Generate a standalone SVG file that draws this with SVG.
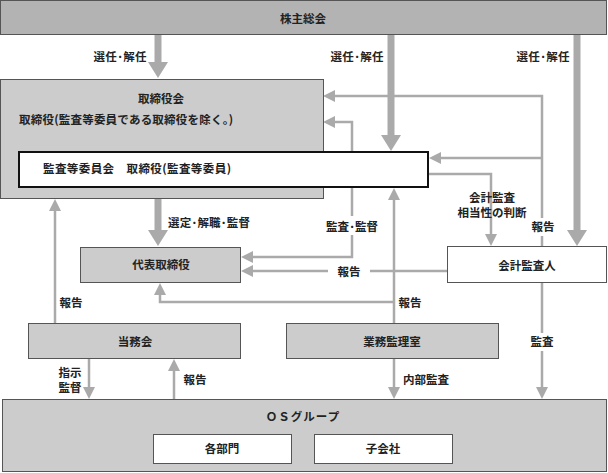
<svg xmlns="http://www.w3.org/2000/svg" width="608" height="473" viewBox="0 0 608 473">
<defs>
<style>
text{font-family:"Noto Sans CJK JP","Noto Sans",sans-serif;font-size:11.5px;font-weight:bold;fill:#222222;text-anchor:middle}
.box{fill:#cccccc;stroke:#555555;stroke-width:1}
.top{fill:#b3b3b3;stroke:#555555;stroke-width:1}
.wbox{fill:#ffffff;stroke:#555555;stroke-width:1}
.kbox{fill:#ffffff;stroke:#111111;stroke-width:2}
.ln{fill:none;stroke:#aaaaaa;stroke-width:2.5}
.thick{fill:none;stroke:#aaaaaa;stroke-width:7}
.hd{fill:#aaaaaa}
.bg{fill:#ffffff}
</style>
</defs>
<rect width="608" height="473" fill="#ffffff"/>

<g id="connectors">
  <line class="thick" x1="158" y1="35" x2="158" y2="64"/>
  <polygon class="hd" points="148,62 168,62 158,78"/>
  <line class="thick" x1="391" y1="35" x2="391" y2="137"/>
  <polygon class="hd" points="381,135 401,135 391,151"/>
  <line class="thick" x1="577" y1="35" x2="577" y2="232"/>
  <polygon class="hd" points="567,230 587,230 577,246"/>
  <line class="thick" x1="158" y1="199" x2="158" y2="232"/>
  <polygon class="hd" points="148,230 168,230 158,246"/>

  <polyline class="ln" points="542,246 542,96 334,96"/>
  <polygon class="hd" points="323,96 335,90 335,102"/>
  <line class="ln" x1="542" y1="158" x2="439" y2="158"/>
  <polygon class="hd" points="429,158 441,152 441,164"/>
  <polyline class="ln" points="334,122 352,122 352,257 252,257"/>
  <polygon class="hd" points="323,122 335,116 335,128"/>
  <polygon class="hd" points="241,257 253,251 253,263"/>
  <polyline class="ln" points="429,174 491,174 491,235"/>
  <polygon class="hd" points="485,234 497,234 491,246"/>
  <line class="ln" x1="447" y1="271" x2="252" y2="271"/>
  <polygon class="hd" points="241,271 253,265 253,277"/>
  <line class="ln" x1="394" y1="323" x2="394" y2="198"/>
  <polygon class="hd" points="394,188 388,200 400,200"/>
  <polyline class="ln" points="394,302 160,302 160,294"/>
  <polygon class="hd" points="160,283 154,295 166,295"/>
  <line class="ln" x1="55" y1="323" x2="55" y2="210"/>
  <polygon class="hd" points="55,199 49,211 61,211"/>
  <line class="ln" x1="89" y1="359" x2="89" y2="388"/>
  <polygon class="hd" points="83,387 95,387 89,399"/>
  <line class="ln" x1="174" y1="399" x2="174" y2="370"/>
  <polygon class="hd" points="174,359 168,371 180,371"/>
  <line class="ln" x1="394" y1="359" x2="394" y2="388"/>
  <polygon class="hd" points="388,387 400,387 394,399"/>
  <line class="ln" x1="542" y1="283" x2="542" y2="388"/>
  <polygon class="hd" points="536,387 548,387 542,399"/>

  <text x="120" y="61" textLength="53">選任･解任</text>
  <text x="357" y="61" textLength="53">選任･解任</text>
  <text x="543" y="61" textLength="53">選任･解任</text>
  <text x="168" y="227" style="text-anchor:start" textLength="82">選定･解職･監督</text>
  <rect class="bg" x="326" y="216" width="53" height="19"/>
  <text x="352" y="231" textLength="52">監査･監督</text>
  <text x="492" y="202">会計監査</text>
  <text x="492" y="217">相当性の判断</text>
  <rect class="bg" x="531" y="218" width="24" height="18"/>
  <text x="543" y="231">報告</text>
  <rect class="bg" x="328" y="263" width="42" height="17"/>
  <text x="349" y="276">報告</text>
  <text x="71" y="307">報告</text>
  <text x="410" y="307">報告</text>
  <text x="70" y="377">指示</text>
  <text x="70" y="392">監督</text>
  <text x="195" y="384">報告</text>
  <text x="426" y="384">内部監査</text>
  <rect class="bg" x="530" y="333" width="25" height="18"/>
  <text x="542" y="346">監査</text>
</g>

<g id="kabunushi">
  <rect class="top" x="0.5" y="0.5" width="606" height="34"/>
  <text x="303" y="23">株主総会</text>
</g>

<g id="torishimariyakukai">
  <rect class="box" x="0.5" y="79.5" width="323" height="119"/>
  <text x="161" y="103">取締役会</text>
  <text x="19" y="124" style="text-anchor:start" textLength="214">取締役(監査等委員である取締役を除く。)</text>
</g>

<g id="kansatou">
  <rect class="kbox" x="19" y="152" width="409" height="35"/>
  <text x="43" y="173" style="text-anchor:start" textLength="188">監査等委員会　取締役(監査等委員)</text>
</g>

<g id="daihyo">
  <rect class="box" x="80.5" y="247.5" width="160" height="35"/>
  <text x="161" y="269">代表取締役</text>
</g>

<g id="kaikeikansanin">
  <rect class="wbox" x="447.5" y="246.5" width="159" height="36"/>
  <text x="527" y="270">会計監査人</text>
</g>

<g id="toumukai">
  <rect class="box" x="28.5" y="323.5" width="212" height="35"/>
  <text x="135" y="346">当務会</text>
</g>

<g id="gyoumukanrishitsu">
  <rect class="box" x="286.5" y="323.5" width="212" height="35"/>
  <text x="392" y="346">業務監理室</text>
</g>

<g id="osgroup">
  <rect class="box" x="2.5" y="399.5" width="604" height="72"/>
  <text x="303" y="421" letter-spacing="1">ＯＳグループ</text>
</g>

<g id="kakubumon">
  <rect class="wbox" x="153.5" y="434.5" width="138" height="29"/>
  <text x="222" y="453">各部門</text>
</g>

<g id="kogaisha">
  <rect class="wbox" x="314.5" y="434.5" width="138" height="29"/>
  <text x="383" y="453">子会社</text>
</g>
</svg>
